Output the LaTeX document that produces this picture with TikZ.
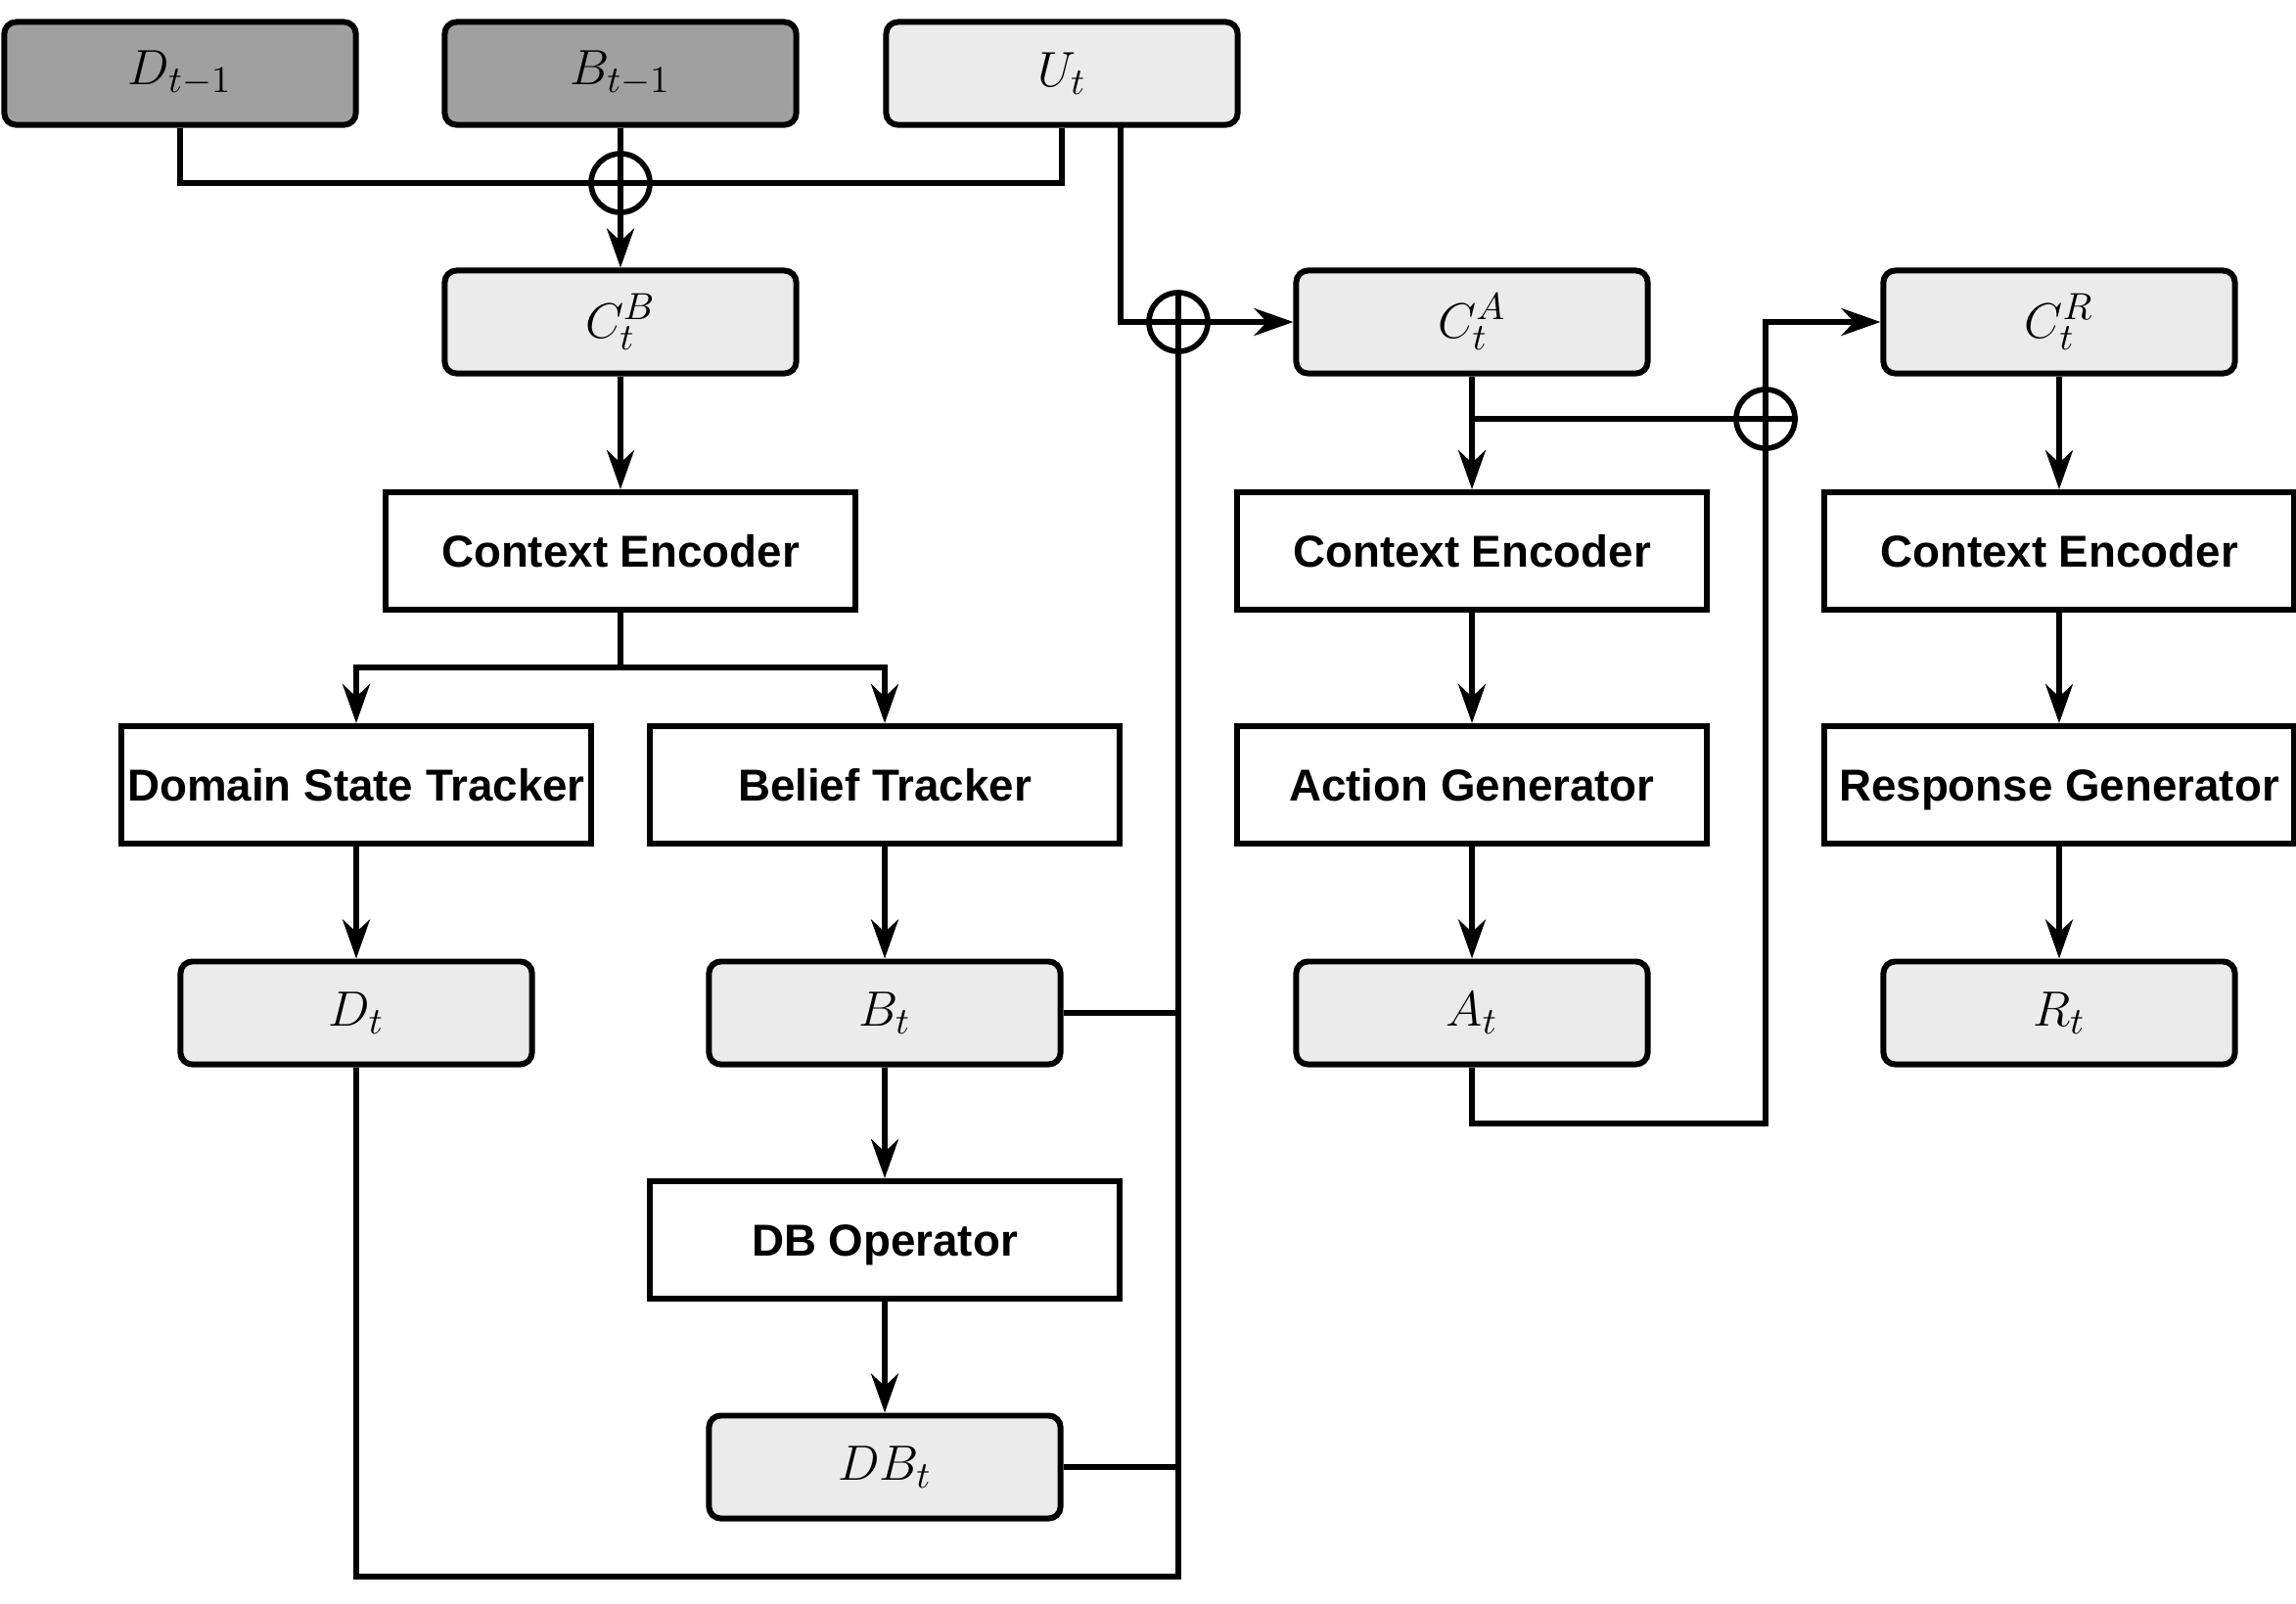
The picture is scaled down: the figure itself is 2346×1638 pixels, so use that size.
\documentclass[tikz,border=0pt]{standalone}
\usepackage{fontspec}
\newfontfamily\labfont{Liberation Sans}
\usetikzlibrary{arrows.meta,calc}
\definecolor{darkfill}{HTML}{A0A0A0}
\definecolor{lightfill}{HTML}{EBEBEB}
\tikzset{
  varbox/.style={draw, line width=1.7pt, rounded corners=0.12cm, minimum width=3.59cm, minimum height=1.05cm, inner sep=0pt, font=\fontsize{15.8}{19}\selectfont},
  prevbox/.style={varbox, fill=darkfill},
  curbox/.style={varbox, fill=lightfill},
  modbox/.style={draw, line width=1.7pt, minimum width=4.8cm, minimum height=1.2cm, inner sep=0pt, text height=9.4pt, text depth=0pt, font=\labfont\bfseries\fontsize{13}{15}\selectfont},
  opl/.style={draw, circle, line width=1.6pt, minimum size=0.6cm, inner sep=0pt,
    path picture={\draw[line width=1.5pt] (path picture bounding box.north) -- (path picture bounding box.south) (path picture bounding box.west) -- (path picture bounding box.east);}},
  conn/.style={line width=1.5pt},
  arr/.style={conn, -{Stealth[length=0.4cm, width=0.28cm, inset=0.13cm]}},
}
\begin{document}
\begin{tikzpicture}[x=0.01cm, y=-0.01cm]
\useasboundingbox (0,0) rectangle (2346,1638);
% top inputs
\node[prevbox] (Dprev) at (184,75) {$D_{t-1}$};
\node[prevbox] (Bprev) at (634,75) {$B_{t-1}$};
\node[curbox] (Ut) at (1085,75) {$U_t$};
\coordinate (ut2) at (1145,127);
% belief branch
\node[curbox] (CB) at (634,329) {$C_t^B$};
\node[modbox] (CE1) at (634,563) {Context Encoder};
\coordinate (split) at (634,682);
\node[modbox] (DST) at (364,802) {Domain State Tracker};
\node[modbox] (BT) at (904,802) {Belief Tracker};
\node[curbox] (Dt) at (364,1035) {$D_t$};
\node[curbox] (Bt) at (904,1035) {$B_t$};
\node[modbox] (DBO) at (904,1267) {DB Operator};
\node[curbox] (DBt) at (904,1499) {$DB_t$};
\coordinate (bl) at (1204,1611);
% action branch
\node[curbox] (CA) at (1504,329) {$C_t^A$};
\node[modbox] (CE2) at (1504,563) {Context Encoder};
\node[modbox] (AG) at (1504,802) {Action Generator};
\node[curbox] (At) at (1504,1035) {$A_t$};
\coordinate (al) at (1804,1148);
% response branch
\node[curbox] (CR) at (2104,329) {$C_t^R$};
\node[modbox] (CE3) at (2104,563) {Context Encoder};
\node[modbox] (RG) at (2104,802) {Response Generator};
\node[curbox] (Rt) at (2104,1035) {$R_t$};
% oplus nodes
\node[opl] (op1) at (634,187) {};
\node[opl] (op2) at (1204,329) {};
\node[opl] (op3) at (1804,428) {};
% connectors
\draw[conn] (Dprev.south) |- (op1.center) -| (Ut.south);
\draw[arr] (Bprev.south) -- (CB.north);
\draw[arr] (CB.south) -- (CE1.north);
\draw[conn] (CE1.south) -- (split);
\draw[arr] (split) -| (DST.north);
\draw[arr] (split) -| (BT.north);
\draw[arr] (DST.south) -- (Dt.north);
\draw[arr] (BT.south) -- (Bt.north);
\draw[arr] (Bt.south) -- (DBO.north);
\draw[arr] (DBO.south) -- (DBt.north);
\draw[conn] (Dt.south) |- (bl) -- (op2.center);
\draw[conn] (Bt.east) -- (Bt.east -| op2.center);
\draw[conn] (DBt.east) -- (DBt.east -| op2.center);
\draw[arr] (ut2) |- (CA.west);
\draw[arr] (CA.south) -- (CE2.north);
\draw[conn] (CA.south |- op3.center) -- (op3.east);
\draw[arr] (CE2.south) -- (AG.north);
\draw[arr] (AG.south) -- (At.north);
\draw[arr] (At.south) |- (al) |- (CR.west);
\draw[arr] (CR.south) -- (CE3.north);
\draw[arr] (CE3.south) -- (RG.north);
\draw[arr] (RG.south) -- (Rt.north);
\end{tikzpicture}
\end{document}
